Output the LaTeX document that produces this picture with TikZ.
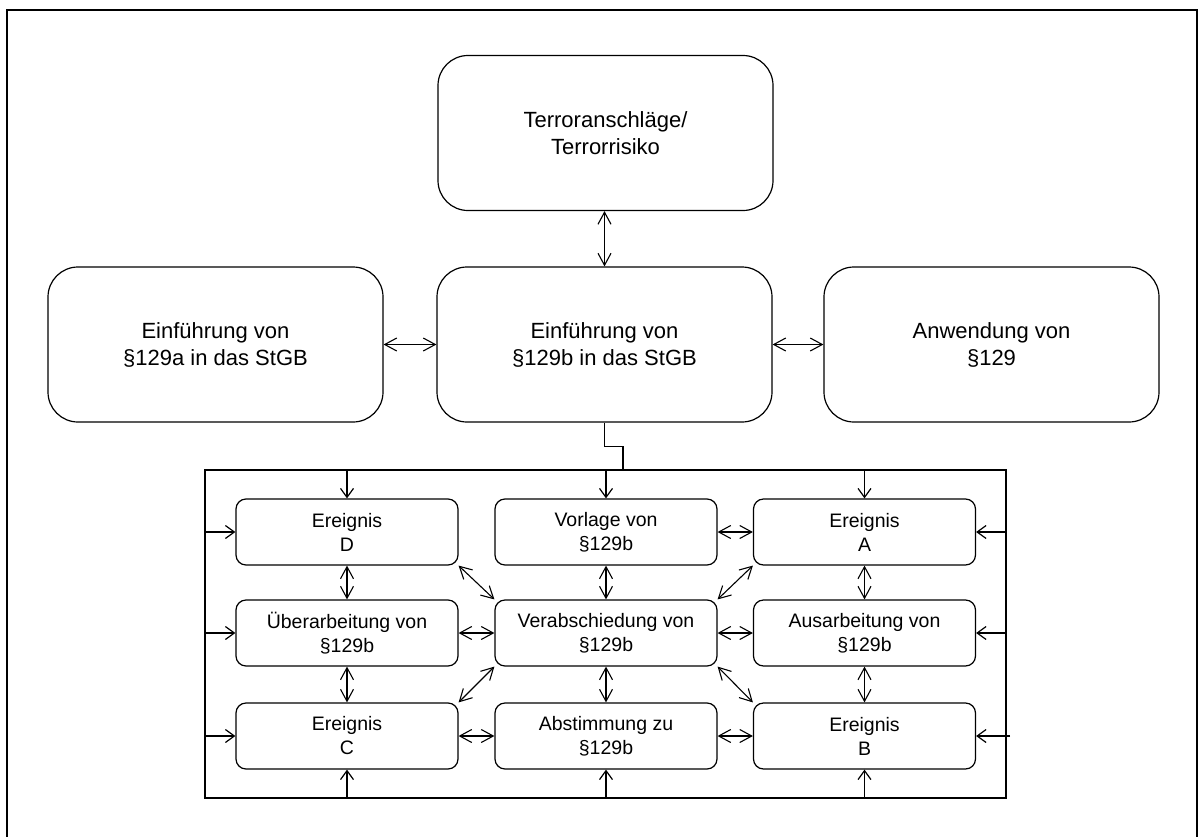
\documentclass[tikz,border=0pt]{standalone}
\usepackage{fontspec}
\setmainfont{Liberation Sans}
\usetikzlibrary{arrows.meta}

\begin{document}
\begin{tikzpicture}[x=1pt, y=-1pt,
    bigbox/.style={draw, line width=1.2pt, rounded corners=30pt, minimum width=335pt, minimum height=155pt,
        inner sep=0pt, align=center, font=\fontsize{22}{27}\selectfont},
    smallbox/.style={draw, line width=1.2pt, rounded corners=10pt, minimum width=222pt, minimum height=66pt,
        inner sep=0pt, align=center, font=\fontsize{19.5}{24}\selectfont},
    link/.style={line width=1.1pt, {Straight Barb[length=12pt,width=13pt]}-{Straight Barb[length=12pt,width=13pt]}},
    feed/.style={line width=1.2pt, -{Straight Barb[length=9pt,width=13pt]}}]
    \useasboundingbox (0,0) rectangle (1203,836);
    \draw[line width=1.5pt] (7,10) rectangle (1197,850);

    % upper level
    \node[bigbox] (terror) at (605.5,133) {Terroranschläge/\\Terrorrisiko};
    \node[bigbox] (intro129a) at (215.5,344.5) {Einführung von\\§129a in das StGB};
    \node[bigbox] (intro129b) at (604.5,344.5) {Einführung von\\§129b in das StGB};
    \node[bigbox] (use129) at (991.5,344.5) {Anwendung von\\§129};
    \draw[link] (intro129b.north |- terror.south) -- (intro129b.north);
    \draw[link] (intro129a.east) -- (intro129b.west);
    \draw[link] (intro129b.east) -- (use129.west);

    % process of 129b
    \node[smallbox] (evD) at (347,532) {Ereignis\\D};
    \node[smallbox] (draft) at (606,532) {Vorlage von\\§129b};
    \node[smallbox] (evA) at (864.5,532) {Ereignis\\A};
    \node[smallbox] (revise) at (347,633) {Überarbeitung von\\§129b};
    \node[smallbox] (pass) at (606,633) {Verabschiedung von\\§129b};
    \node[smallbox] (elab) at (864.5,633) {Ausarbeitung von\\§129b};
    \node[smallbox] (evC) at (347,736) {Ereignis\\C};
    \node[smallbox] (vote) at (606,736) {Abstimmung zu\\§129b};
    \node[smallbox] (evB) at (864.5,736) {Ereignis\\B};

    \coordinate (fnw) at (205,470);
    \coordinate (fse) at (1006,798);
    \coordinate (ftop) at (623,470);
    \draw[line width=1.2pt] (fnw) rectangle (fse);
    \draw[line width=1.2pt] (intro129b.south) -- ++(0,24) -| (ftop);

    \foreach \n in {evD,draft,evA}
        \draw[feed] (\n.north |- fnw) -- (\n.north);
    \foreach \n in {evD,revise,evC}
        \draw[feed] (\n.west -| fnw) -- (\n.west);
    \foreach \n in {evA,elab}
        \draw[feed] (\n.east -| fse) -- (\n.east);
    \draw[feed] ([xshift=4pt]evB.east -| fse) -- (evB.east);
    \foreach \n in {evC,vote,evB}
        \draw[feed] (\n.south |- fse) -- (\n.south);

    \foreach \a/\b in {evD/revise, revise/evC, draft/pass, pass/vote, evA/elab, elab/evB,
                       draft/evA, revise/pass, pass/elab, evC/vote, vote/evB}
        \draw[link] (\a) -- (\b);
    \draw[link] (evD.south east) -- (pass.north west);
    \draw[link] (evA.south west) -- (pass.north east);
    \draw[link] (evC.north east) -- (pass.south west);
    \draw[link] (evB.north west) -- (pass.south east);
\end{tikzpicture}
\end{document}
